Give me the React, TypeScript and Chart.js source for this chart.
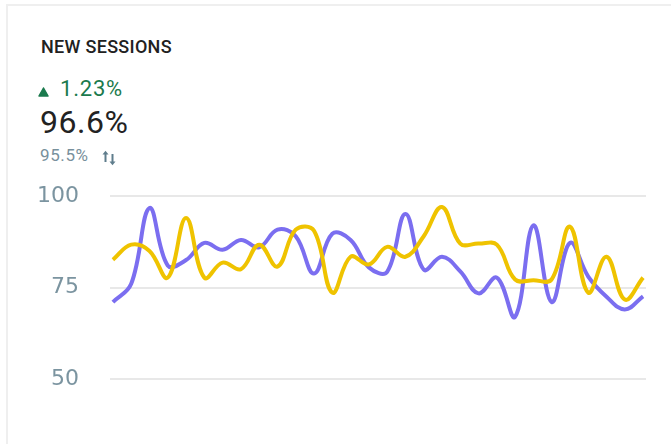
import React, { useEffect, useRef } from "react";
import { Chart, registerables } from "chart.js";

Chart.register(...registerables);

const days: number[] = Array.from({ length: 30 }, (_, i) => i);
const currentValues: number[] = [
  71, 76, 96.7, 81, 82.5, 87.2, 85.3, 88, 86, 90.8,
  89, 78.8, 89.7, 88, 80.5, 79.3, 95.1, 79.9, 83.4, 79.4,
  73.4, 77.7, 67, 92, 71, 87.2, 78, 72.5, 69, 72.6,
];
const previousValues: number[] = [
  82.6, 86.7, 85, 77.7, 94, 77.7, 81.8, 80, 86.7, 80.7,
  90.8, 90.5, 73.6, 83.4, 81.3, 86.1, 83.4, 89, 97, 87,
  87, 86.7, 77.2, 77, 77.2, 91.6, 73.6, 83.4, 71.7, 77.7,
];
const yTicks: number[] = [50, 75, 100];

const title = "NEW SESSIONS";
const changeText = "1.23%";
const mainValue = "96.6%";
const compareValue = "95.5%";

export default function App() {
  const ref = useRef<HTMLCanvasElement | null>(null);

  useEffect(() => {
    if (!ref.current) return;
    const chart = new Chart(ref.current, {
      type: "line",
      data: {
        datasets: [
          {
            label: "Previous",
            data: days.map((d, i) => ({ x: d, y: previousValues[i] })),
            borderColor: "#efc300",
            borderWidth: 4,
            pointRadius: 0,
            tension: 0.4,
            fill: false,
          },
          {
            label: "Current",
            data: days.map((d, i) => ({ x: d, y: currentValues[i] })),
            borderColor: "#7b6ef0",
            borderWidth: 4,
            pointRadius: 0,
            tension: 0.4,
            fill: false,
          },
        ],
      },
      options: {
        animation: false,
        responsive: false,
        maintainAspectRatio: false,
        layout: { padding: { top: 196, bottom: 65, right: 25, left: 0 } },
        plugins: { legend: { display: false }, tooltip: { enabled: false } },
        scales: {
          x: {
            type: "linear",
            display: false,
            min: -0.16,
            max: 29.16,
          },
          y: {
            min: 50,
            max: 100,
            afterBuildTicks: (axis: any) => {
              axis.ticks = yTicks.map((v) => ({ value: v }));
            },
            afterFit: (axis: any) => {
              axis.width = 110;
            },
            border: { display: false },
            grid: { color: "#e8e8e8", lineWidth: 2, drawTicks: false },
            ticks: {
              padding: 31,
              color: "#7b94a0",
              font: { family: "'DejaVu Sans'", size: 22 },
            },
          },
        },
      },
    });
    return () => chart.destroy();
  }, []);

  const base: React.CSSProperties = {
    position: "absolute",
    fontFamily: "Roboto, sans-serif",
    lineHeight: 1,
    whiteSpace: "nowrap",
    margin: 0,
  };

  return (
    <div
      style={{
        position: "fixed",
        left: 0,
        top: 0,
        width: 671,
        height: 444,
        overflow: "hidden",
        background: "#fff",
      }}
    >
      <div
        style={{
          position: "absolute",
          left: 6,
          top: 4,
          width: 720,
          height: 520,
          border: "2px solid #efefef",
          boxSizing: "border-box",
        }}
      />
      <div
        style={{ ...base, left: 41, top: 37.6, fontSize: 18, fontWeight: 500, letterSpacing: 0.3, color: "#212121" }}
      >
        {title}
      </div>
      <svg
        style={{ position: "absolute", left: 38, top: 87 }}
        width={11}
        height={10}
        viewBox="0 0 11 10"
      >
        <path d="M5.5 1 L10 9 L1 9 Z" fill="#1b7a4d" stroke="#1b7a4d" strokeWidth={1.5} strokeLinejoin="round" />
      </svg>
      <div style={{ ...base, left: 60, top: 78.2, fontSize: 22, fontWeight: 400, letterSpacing: 0.8, color: "#1b7a4d" }}>
        {changeText}
      </div>
      <div style={{ ...base, left: 40, top: 106.2, fontSize: 32, letterSpacing: 0.5, color: "#222" }}>
        {mainValue}
      </div>
      <div style={{ ...base, left: 40, top: 147.4, fontSize: 17, letterSpacing: 0.6, color: "#78909c" }}>
        {compareValue}
      </div>
      <svg
        style={{ position: "absolute", left: 101, top: 150 }}
        width={17}
        height={16}
        viewBox="0 0 17 16"
      >
        <path d="M4.5 12 L4.5 3" stroke="#5f7d8c" strokeWidth={2} />
        <path d="M1.5 4.5 L4.5 0.8 L7.5 4.5 Z" fill="#5f7d8c" />
        <path d="M11.5 4 L11.5 13" stroke="#5f7d8c" strokeWidth={2} />
        <path d="M8.5 11.5 L11.5 15.2 L14.5 11.5 Z" fill="#5f7d8c" />
      </svg>
      <canvas
        ref={ref}
        width={671}
        height={444}
        style={{ position: "absolute", left: 0, top: 0, width: 671, height: 444 }}
      />
    </div>
  );
}
